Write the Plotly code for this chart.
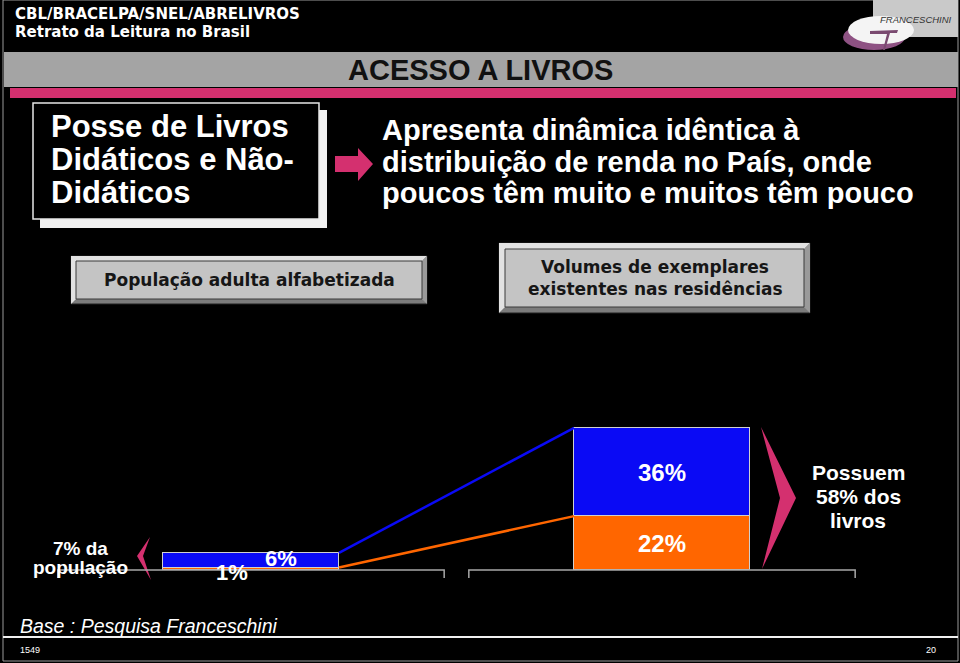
import plotly.graph_objects as go

# --- dados ---
grupos = ["População adulta alfabetizada", "Volumes de exemplares existentes nas residências"]
serie_laranja = [1, 22]   # parte inferior das barras (%)
serie_azul = [6, 36]      # parte superior das barras (%)
rotulos_laranja = ["1%", "22%"]
rotulos_azul = ["6%", "36%"]

COR_AZUL = "#0a0af5"
COR_LARANJA = "#ff6600"
COR_ROSA = "#d4306f"

W, H = 960, 663

# escala do gráfico (pixels da página)
BASE_Y = 570          # linha de base das barras
PX_POR_PCT = 2.45     # altura de 1 ponto percentual
CAT0_X, CAT_PASSO = 251, 411
LARG_BARRA = 0.428
MEIA_CAT = 0.47


def pp(x, y):
    """pixel -> coordenadas paper"""
    return x / W, 1 - y / H


def caminho(pontos):
    partes = []
    for i, (x, y) in enumerate(pontos):
        a, b = pp(x, y)
        partes.append(("M" if i == 0 else "L") + f"{a:.5f},{b:.5f}")
    return " ".join(partes) + " Z"


def retangulo(x0, y0, x1, y1, **kw):
    a0, b0 = pp(x0, y0)
    a1, b1 = pp(x1, y1)
    d = dict(type="rect", xref="paper", yref="paper", x0=a0, y0=b1, x1=a1, y1=b0)
    d.update(kw)
    return d


def texto(t, x, y, size, color="white", family="Liberation Sans", anchor="center", bold=True, italic=False):
    a, b = pp(x, y)
    return dict(text=f"<b>{t}</b>" if bold else t, x=a, y=b, xref="paper", yref="paper",
                xanchor=anchor, yanchor="middle", showarrow=False,
                font=dict(size=size, color=color, family=family,
                          style="italic" if italic else "normal"))


fig = go.Figure()

xs = list(range(len(grupos)))
fig.add_trace(go.Bar(x=xs, y=serie_laranja, width=LARG_BARRA, marker_color=COR_LARANJA,
                     marker_line=dict(color="#d0d0d0", width=1), name="laranja"))
fig.add_trace(go.Bar(x=xs, y=serie_azul, width=LARG_BARRA, marker_color=COR_AZUL,
                     marker_line=dict(color="#d0d0d0", width=1), name="azul"))

# linhas de ligação entre as barras
topo_laranja = serie_laranja
topo_azul = [a + b for a, b in zip(serie_laranja, serie_azul)]
x_lig = [xs[0] + LARG_BARRA / 2, xs[1] - LARG_BARRA / 2]
fig.add_trace(go.Scatter(x=x_lig, y=topo_laranja, mode="lines",
                         line=dict(color=COR_LARANJA, width=2.5)))
fig.add_trace(go.Scatter(x=x_lig, y=topo_azul, mode="lines",
                         line=dict(color=COR_AZUL, width=2.5)))

shapes = []
annotations = []

# moldura do slide e rodapé
shapes.append(retangulo(3, 0, 958, 661, line=dict(color="#9a9a9a", width=1), fillcolor="rgba(0,0,0,0)"))
shapes.append(dict(type="line", xref="paper", yref="paper", x0=pp(3, 0)[0], x1=pp(958, 0)[0],
                   y0=pp(0, 637)[1], y1=pp(0, 637)[1], line=dict(color="#f0f0f0", width=2)))

# faixa cinza + barra rosa
shapes.append(retangulo(4, 52, 958, 87, fillcolor="#a4a4a4", line=dict(width=0)))
shapes.append(retangulo(10, 88, 956, 98, fillcolor=COR_ROSA, line=dict(width=0)))

# logotipo
shapes.append(retangulo(873, 0, 958, 37, fillcolor="#c9c9c9", line=dict(width=0)))
a0, b0 = pp(843, 24)
a1, b1 = pp(905, 50)
shapes.append(dict(type="circle", xref="paper", yref="paper", x0=a0, y0=b1, x1=a1, y1=b0,
                   fillcolor="#8e5283", line=dict(width=0)))
a0, b0 = pp(848, 16)
a1, b1 = pp(914, 44)
shapes.append(dict(type="circle", xref="paper", yref="paper", x0=a0, y0=b1, x1=a1, y1=b0,
                   fillcolor="#f4f4f4", line=dict(width=0)))
shapes.append(dict(type="path", xref="paper", yref="paper",
                   path=caminho([(870, 31), (898, 30), (897, 33), (890, 33), (885, 50), (883, 50), (887, 34), (870, 34)]),
                   fillcolor="#7a4a70", line=dict(width=0)))

# caixa "Posse de Livros"
shapes.append(retangulo(40, 110, 327, 228, fillcolor="#f2f2f2", line=dict(width=0)))
shapes.append(retangulo(33, 103, 319, 219, fillcolor="black", line=dict(color="#e6e6e6", width=1.5)))

# seta rosa
shapes.append(dict(type="path", xref="paper", yref="paper",
                   path=caminho([(335, 156), (358, 156), (358, 148), (373, 164), (358, 181), (358, 172), (335, 172)]),
                   fillcolor=COR_ROSA, line=dict(width=0)))


def botao(x0, y0, x1, y1, b=5):
    shapes.append(retangulo(x0, y0, x1, y1, fillcolor="#7c7c7c", line=dict(color="#202020", width=1)))
    shapes.append(dict(type="path", xref="paper", yref="paper",
                       path=caminho([(x0, y0), (x1, y0), (x1 - b, y0 + b), (x0 + b, y0 + b), (x0 + b, y1 - b), (x0, y1)]),
                       fillcolor="#e2e2e2", line=dict(width=0)))
    shapes.append(dict(type="path", xref="paper", yref="paper",
                       path=caminho([(x1, y0), (x1, y1), (x1 - b, y1 - b), (x1 - b, y0 + b)]),
                       fillcolor="#9a9a9a", line=dict(width=0)))
    shapes.append(retangulo(x0 + b, y0 + b, x1 - b, y1 - b, fillcolor="#c4c4c4",
                            line=dict(color="#3a3a3a", width=1)))


botao(71, 256, 427, 304)
botao(499, 243, 810, 313, b=6)

# chevrons rosa
shapes.append(dict(type="path", xref="paper", yref="paper",
                   path=caminho([(150, 537), (137, 556), (151, 580), (143, 556)]),
                   fillcolor=COR_ROSA, line=dict(width=0)))
shapes.append(dict(type="path", xref="paper", yref="paper",
                   path=caminho([(761, 427), (796, 498), (762, 569), (780, 498)]),
                   fillcolor=COR_ROSA, line=dict(width=0)))

# linhas de base dos grupos (colchetes)
perna = 8 / PX_POR_PCT
for c in xs:
    x0, x1 = c - MEIA_CAT, c + MEIA_CAT
    shapes.append(dict(type="path", xref="x", yref="y",
                       path=f"M{x0},{-perna} L{x0},0 L{x1},0 L{x1},{-perna}",
                       line=dict(color="#a8a8a8", width=1.5)))

# textos do cabeçalho
annotations.append(texto("CBL/BRACELPA/SNEL/ABRELIVROS", 13, 14, 15, family="DejaVu Sans", anchor="left"))
annotations.append(texto("Retrato da Leitura no Brasil", 13, 32, 15, family="DejaVu Sans", anchor="left"))
annotations.append(texto("ACESSO A LIVROS", 480, 70, 29, color="#111111"))
annotations.append(texto("FRANCESCHINI", 916, 19, 9.5, color="#333333", bold=False, italic=True))

for i, linha in enumerate(["Posse de Livros", "Didáticos e Não-", "Didáticos"]):
    annotations.append(texto(linha, 49, 127 + i * 32.5, 31, anchor="left"))
for i, linha in enumerate(["Apresenta dinâmica idêntica à", "distribuição de renda no País, onde",
                           "poucos têm muito e muitos têm pouco"]):
    annotations.append(texto(linha, 380, 130 + i * 31.5, 29, anchor="left"))

annotations.append(texto("População adulta alfabetizada", 249, 280, 17, color="#161616", family="DejaVu Sans"))
annotations.append(texto("Volumes de exemplares", 655, 267, 17, color="#161616", family="DejaVu Sans"))
annotations.append(texto("existentes nas residências", 655, 289, 17, color="#161616", family="DejaVu Sans"))

annotations.append(texto("7% da", 80, 548, 19))
annotations.append(texto("população", 80, 567, 19))
for i, linha in enumerate(["Possuem", "58% dos", "livros"]):
    annotations.append(texto(linha, 858, 472 + i * 24, 21))

annotations.append(texto("Base : Pesquisa Franceschini", 18, 626, 19.5, anchor="left", bold=False, italic=True))
annotations.append(texto("1549", 18, 650, 9, anchor="left", bold=False))
annotations.append(texto("20", 938, 650, 9, anchor="right", bold=False))

# rótulos das barras (a partir dos dados)
desloc = [(-19, -4, 30, 2), (0, 0, 0, 0)]
tamanhos = [22, 24]
for c in xs:
    dxl, dyl, dxa, dya = desloc[c]
    annotations.append(dict(x=c, y=serie_laranja[c] / 2, xref="x", yref="y", text=f"<b>{rotulos_laranja[c]}</b>",
                            showarrow=False, xshift=dxl, yshift=dyl,
                            font=dict(size=tamanhos[c], color="white", family="Liberation Sans")))
    annotations.append(dict(x=c, y=serie_laranja[c] + serie_azul[c] / 2, xref="x", yref="y",
                            text=f"<b>{rotulos_azul[c]}</b>", showarrow=False, xshift=dxa, yshift=dya,
                            font=dict(size=tamanhos[c], color="white", family="Liberation Sans")))

xr0 = -CAT0_X / CAT_PASSO
yr0 = -(H - BASE_Y) / PX_POR_PCT

fig.update_layout(
    width=W, height=H, autosize=False,
    margin=dict(l=0, r=0, t=0, b=0, pad=0),
    paper_bgcolor="black", plot_bgcolor="black",
    barmode="stack", bargap=0, showlegend=False,
    xaxis=dict(range=[xr0, xr0 + W / CAT_PASSO], visible=False, fixedrange=True),
    yaxis=dict(range=[yr0, yr0 + H / PX_POR_PCT], visible=False, fixedrange=True),
    shapes=shapes, annotations=annotations,
)

fig.write_html("out.html", config={"displayModeBar": False},
               post_script="document.body.style.margin='0';document.body.style.background='black';")
